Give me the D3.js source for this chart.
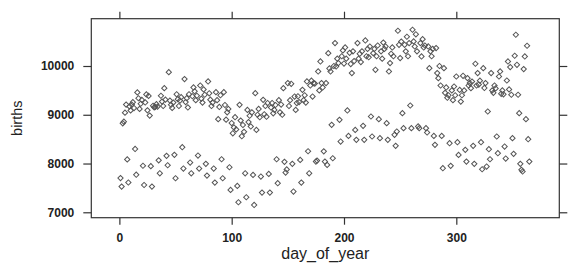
<!DOCTYPE html>
<html>
<head>
<meta charset="utf-8">
<script src="https://cdn.jsdelivr.net/npm/d3@7"></script>
<style>
    body { margin: 0; background: #fff; }
    svg { display: block; font-family: "Liberation Sans", Arial, sans-serif; }
    .tick text { font-size: 12px; font-weight: bold; fill: #222; }
    .tick line { stroke: #333; stroke-width: 1.2; }
    .axis-title { font-size: 16px; fill: #222; }
</style>
</head>
<body>
<div id="chart"></div>
<script>
// Births per day, 1978. One line per week, Sunday first.
const births = [
    7701, 7527, 8825, 8859, 9043, 9208, 8084,
    7611, 9172, 9089, 9210, 9259, 9138, 8299,
    7771, 9458, 9339, 9120, 9226, 9305, 7954,
    7560, 9252, 9416, 9090, 9387, 8983, 7946,
    7527, 9184, 9152, 9159, 9218, 9167, 8065,
    7800, 9390, 9270, 9180, 9546, 9310, 8157,
    7965, 9874, 9290, 9205, 9140, 9250, 8178,
    7698, 9420, 9320, 9180, 9290, 9360, 8335,
    7897, 9731, 9260, 9340, 9150, 9420, 8020,
    7800, 9380, 9560, 9480, 9300, 9390, 8164,
    7897, 9600, 9330, 9250, 9520, 9410, 7993,
    7753, 9683, 9440, 9310, 9180, 9250, 7897,
    7609, 9464, 9300, 8910, 9160, 9400, 8088,
    7698, 9464, 9200, 8900, 9050, 9120, 7924,
    7459, 8830, 8620, 8740, 8950, 8700, 7541,
    7206, 9204, 8880, 8560, 8790, 8650, 7800,
    7308, 9100, 8850, 8980, 8760, 9050, 7767,
    7150, 9443, 8690, 9000, 9120, 8950, 7733,
    7404, 9306, 9010, 9180, 8960, 9240, 7787,
    7404, 9150, 9240, 9030, 9100, 9200, 8088,
    7596, 9300, 9050, 9210, 9000, 9546, 8034,
    7815, 7880, 9649, 9180, 9300, 9635, 7993,
    7425, 9374, 9100, 9240, 9380, 9260, 8074,
    7609, 9511, 9300, 9400, 9250, 9683, 8252,
    7800, 9600, 9700, 9374, 9650, 9640, 8040,
    8060, 9888, 9500, 10093, 9650, 9560, 8250,
    8040, 9650, 7972, 10264, 9950, 9888, 8793,
    8108, 10000, 10470, 9990, 10150, 10060, 8896,
    8451, 10200, 10320, 10050, 10380, 10150, 9088,
    8567, 10270, 10040, 9854, 10300, 10100, 8690,
    8485, 10470, 10150, 10250, 10080, 10300, 8773,
    8485, 10524, 10200, 10350, 10180, 10400, 8964,
    8554, 10264, 10350, 9922, 10200, 10420, 8910,
    8520, 10300, 10150, 10480, 10350, 10401, 8828,
    8485, 9888, 10059, 10250, 10380, 10200, 8588,
    8362, 8656, 10723, 10435, 10162, 10500, 9033,
    8725, 10435, 10300, 10600, 10200, 10470, 9190,
    8725, 10743, 10504, 10400, 10650, 10300, 8760,
    8725, 10470, 10196, 10550, 10380, 10420, 8725,
    8636, 10401, 9956, 10300, 10200, 10350, 8567,
    8383, 10367, 9854, 9751, 10000, 9600, 8567,
    7904, 9956, 9450, 9560, 9350, 9400, 8417,
    7952, 9500, 9300, 9580, 9400, 9785, 8437,
    8177, 9510, 9270, 9400, 9799, 9500, 8280,
    8040, 9751, 9600, 9650, 9546, 9680, 8362,
    7993, 10046, 9600, 9854, 9620, 9700, 8437,
    7883, 9956, 9550, 9650, 7938, 9067, 8294,
    8088, 9854, 9500, 9450, 9600, 9540, 8554,
    8212, 9785, 9888, 9430, 9500, 9420, 8348,
    8102, 9703, 10093, 9520, 9977, 9410, 8520,
    8198, 10210, 10641, 10025, 9410, 9033, 7993,
    7870, 7836, 9936, 10196, 8910, 10415, 8499,
    8040
];
const xTicks = [0, 100, 200, 300];
const yTicks = [7000, 8000, 9000, 10000];

const data = births.map((b, i) => ({day: i + 1, births: b}));

const width = 578;
const height = 276;
const frame = {left: 91.3, right: 559.3, top: 18.7, bottom: 217.7};

const svg = d3.select("#chart")
    .append("svg")
    .attr("width", width)
    .attr("height", height);

const x = d3.scaleLinear()
    .domain([-25, 391.7])
    .range([frame.left, frame.right]);

const y = d3.scaleLinear()
    .domain([6889, 10970])
    .range([frame.bottom, frame.top]);

const fmt = d3.format("d");

// Axes on all four sides, labels only bottom and left
svg.append("g")
    .attr("transform", `translate(0,${frame.bottom})`)
    .call(d3.axisBottom(x).tickValues(xTicks).tickSize(7).tickSizeOuter(0).tickPadding(9).tickFormat(fmt))
    .call(g => g.select(".domain").remove());

svg.append("g")
    .attr("transform", `translate(0,${frame.top})`)
    .call(d3.axisTop(x).tickValues(xTicks).tickSize(7).tickSizeOuter(0).tickFormat(""))
    .call(g => g.select(".domain").remove());

svg.append("g")
    .attr("transform", `translate(${frame.left},0)`)
    .call(d3.axisLeft(y).tickValues(yTicks).tickSize(8).tickSizeOuter(0).tickPadding(9).tickFormat(fmt))
    .call(g => g.select(".domain").remove());

svg.append("g")
    .attr("transform", `translate(${frame.right},0)`)
    .call(d3.axisRight(y).tickValues(yTicks).tickSize(8).tickSizeOuter(0).tickFormat(""))
    .call(g => g.select(".domain").remove());

// Panel frame
svg.append("rect")
    .attr("x", frame.left)
    .attr("y", frame.top)
    .attr("width", frame.right - frame.left)
    .attr("height", frame.bottom - frame.top)
    .attr("fill", "none")
    .attr("stroke", "#333")
    .attr("stroke-width", 1.2);

// Open diamonds
const diamond = d3.symbol().type(d3.symbolSquare).size(14);

svg.append("g")
    .selectAll("path")
    .data(data)
    .enter()
    .append("path")
    .attr("d", diamond)
    .attr("transform", d => `translate(${x(d.day)},${y(d.births)}) rotate(45)`)
    .attr("fill", "none")
    .attr("stroke", "#555")
    .attr("stroke-width", 1);

// Axis titles
svg.append("text")
    .attr("class", "axis-title")
    .attr("text-anchor", "middle")
    .attr("x", (frame.left + frame.right) / 2)
    .attr("y", 259)
    .text("day_of_year");

svg.append("text")
    .attr("class", "axis-title")
    .attr("text-anchor", "middle")
    .attr("transform", `translate(21.5,${(frame.top + frame.bottom) / 2}) rotate(-90)`)
    .style("font-size", "14.5px")
    .text("births");
</script>
</body>
</html>
